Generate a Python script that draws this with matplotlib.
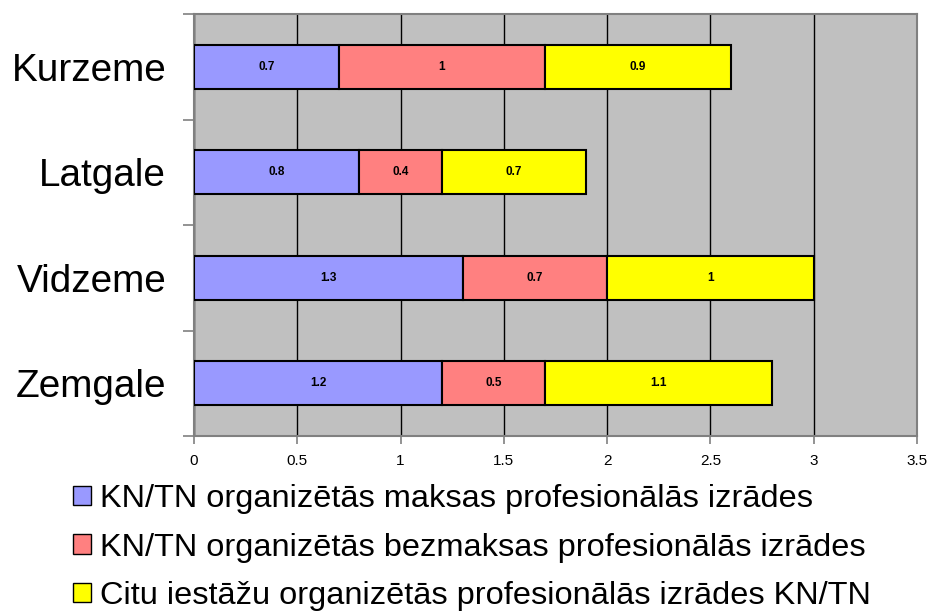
import matplotlib
matplotlib.use("Agg")
import matplotlib.pyplot as plt
from matplotlib.patches import Patch
import numpy as np

plt.rcParams['font.family'] = ['Liberation Sans', 'DejaVu Sans']

regions = ["Kurzeme", "Latgale", "Vidzeme", "Zemgale"]
paid = [0.7, 0.8, 1.3, 1.2]
free = [1.0, 0.4, 0.7, 0.5]
other = [0.9, 0.7, 1.0, 1.1]
series_names = [
    "KN/TN organizētās maksas profesionālās izrādes",
    "KN/TN organizētās bezmaksas profesionālās izrādes",
    "Citu iestāžu organizētās profesionālās izrādes KN/TN",
]
colors = ["#9999FF", "#FF8080", "#FFFF00"]
xticks = [0, 0.5, 1, 1.5, 2, 2.5, 3, 3.5]

fig = plt.figure(figsize=(9.29, 6.12), dpi=100)
ax = fig.add_axes([194 / 929, 1 - 436 / 612, (917 - 194) / 929, (436 - 14) / 612])
ax.set_facecolor("#C0C0C0")

y = np.arange(len(regions))
left = np.zeros(len(regions))
for vals, col in zip([paid, free, other], colors):
    bars = ax.barh(y, vals, left=left, height=0.42, color=col,
                   edgecolor="black", linewidth=1.5, zorder=3)
    for b, v in zip(bars, vals):
        ax.text(b.get_x() + b.get_width() / 2, b.get_y() + b.get_height() / 2,
                f"{v:g}", ha="center", va="center", fontsize=8.5,
                fontweight="bold", zorder=4)
    left += np.array(vals)

ax.set_xlim(0, 3.5)
ax.set_ylim(3.5, -0.5)
ax.set_xticks(xticks)
ax.set_xticklabels([f"{t:g}" for t in xticks], fontsize=11)
ax.xaxis.grid(True, color="black", lw=1, zorder=1)
ax.set_axisbelow(True)

# category boundary ticks, labels at centers
ax.set_yticks(np.arange(-0.5, len(regions), 1.0))
ax.set_yticklabels([])
ax.set_yticks(y, minor=True)
ax.set_yticklabels(regions, minor=True, fontsize=27.9)
ax.tick_params(axis="y", which="minor", length=0, pad=20)
ax.tick_params(axis="y", which="major", length=8, color="#808080", width=1.2)
ax.tick_params(axis="x", length=6, color="#808080", width=1.2, pad=7)

for s in ["left", "bottom", "top", "right"]:
    ax.spines[s].set_color("#808080")
    ax.spines[s].set_linewidth(1.5)

handles = [Patch(facecolor=c, edgecolor="black", lw=1) for c in colors]
fig.legend(handles, series_names, loc="upper left",
           bbox_to_anchor=(73 / 929, 1 - 484 / 612), frameon=False,
           fontsize=23.4, handlelength=0.55, handleheight=0.55,
           handletextpad=0.28, labelspacing=0.57, borderaxespad=0,
           borderpad=0)

fig.savefig("out.png", dpi=100)
